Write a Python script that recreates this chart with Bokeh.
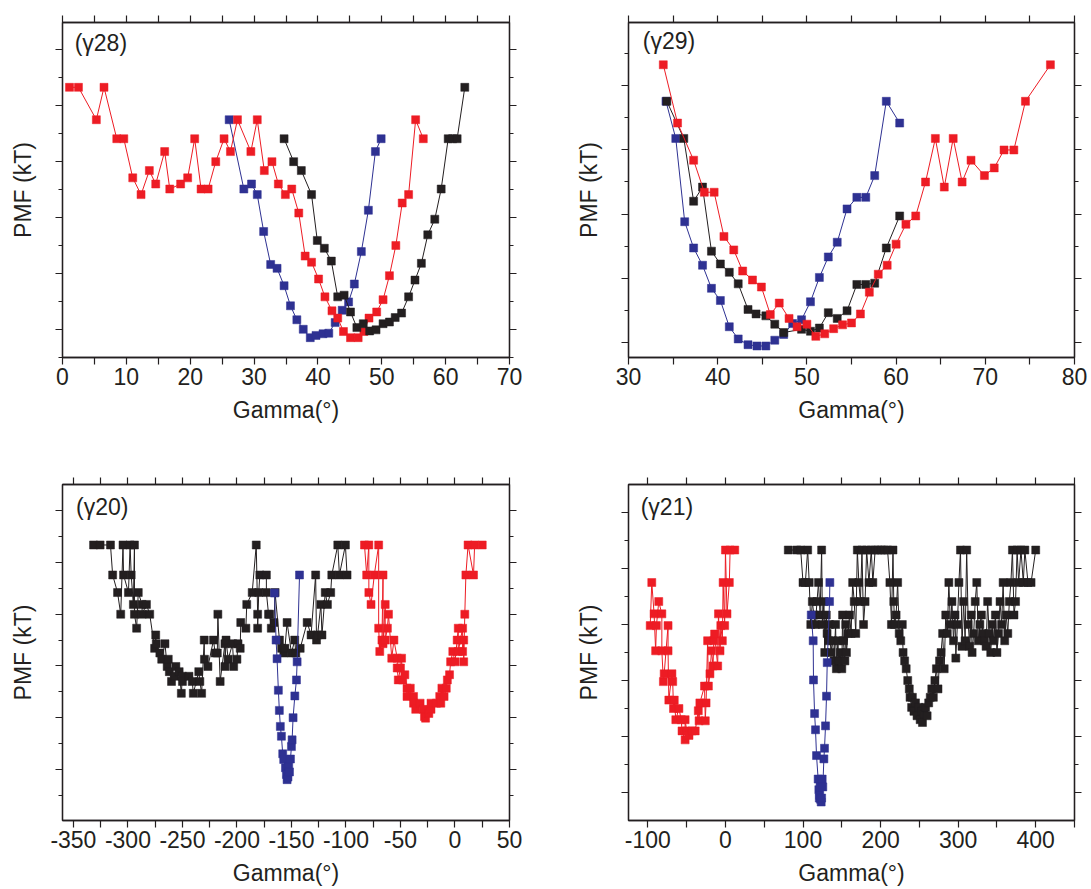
from bokeh.plotting import figure
from bokeh.models import FixedTicker, LinearAxis, Range1d, Label
from bokeh.layouts import row, column
from bokeh.embed import file_html
from bokeh.resources import INLINE

# ---------------- data ----------------
# (gamma28)
G28_RED_X = [1.1, 2.5, 5.3, 6.5, 8.5, 9.6, 11.0, 12.3, 13.6, 14.6, 16.0, 16.8, 18.5, 19.6, 20.7, 21.7,
             22.8, 24.0, 25.3, 26.3, 27.4, 29.5, 30.5, 31.6, 32.8, 33.8, 34.9, 35.9, 37.0, 38.0, 39.0,
             40.1, 41.1, 42.2, 43.1, 44.0, 45.1, 46.3, 47.2, 48.0, 49.2, 50.2, 51.2, 52.2, 53.2, 54.2,
             55.3, 56.5]
G28_RED_Y = [4.33, 4.33, 3.75, 4.33, 3.41, 3.41, 2.71, 2.41, 2.84, 2.60, 3.18, 2.51, 2.60, 2.71, 3.41,
             2.51, 2.51, 3.00, 3.41, 3.18, 3.75, 3.18, 3.75, 2.84, 3.00, 2.60, 2.41, 2.51, 2.08, 1.31,
             1.20, 0.90, 0.58, 0.33, 0.20, -0.04, -0.15, -0.15, -0.04, 0.20, 0.31, 0.53, 0.96, 1.50,
             2.26, 2.41, 3.75, 3.41]
G28_BLUE_X = [26.1, 28.4, 29.6, 30.5, 31.5, 32.6, 33.6, 34.7, 35.7, 36.7, 37.7, 38.8, 39.7, 40.8, 41.7,
              42.7, 43.8, 44.8, 45.7, 46.8, 47.9, 49.0, 49.9]
G28_BLUE_Y = [3.75, 2.51, 2.60, 2.41, 1.75, 1.16, 1.09, 0.78, 0.42, 0.17, 0.00, -0.15, -0.11, -0.08,
              -0.07, 0.12, 0.34, 0.49, 0.81, 1.39, 2.13, 3.18, 3.41]
G28_BLACK_X = [34.7, 36.2, 37.4, 39.0, 39.9, 41.0, 42.1, 43.1, 44.1, 45.1, 46.1, 47.1, 48.1, 49.1, 50.2,
               51.2, 52.1, 53.1, 54.2, 55.2, 56.2, 57.2, 58.3, 59.3, 60.4, 61.1, 61.8, 63.0]
G28_BLACK_Y = [3.41, 3.00, 2.84, 2.41, 1.59, 1.45, 1.22, 0.58, 0.61, 0.31, 0.03, 0.10, -0.03, -0.01,
               0.10, 0.13, 0.21, 0.29, 0.58, 0.88, 1.18, 1.69, 1.97, 2.51, 3.41, 3.41, 3.41, 4.33]

# (gamma29)
G29_RED_X = [33.9, 35.5, 37.3, 38.5, 39.6, 40.7, 41.8, 42.8, 43.9, 44.9, 45.9, 46.9, 48.0, 48.9, 50.0,
             51.0, 52.0, 53.0, 54.0, 55.0, 56.0, 57.0, 58.0, 59.0, 60.0, 61.1, 62.2, 63.3, 64.4, 65.4,
             66.4, 67.4, 68.4, 69.9, 71.0, 72.1, 73.2, 74.5, 77.3]
G29_RED_Y = [4.33, 3.42, 2.84, 2.34, 2.34, 1.65, 1.44, 1.11, 0.97, 0.86, 0.43, 0.61, 0.37, 0.24, 0.28,
             0.09, 0.13, 0.21, 0.27, 0.30, 0.44, 0.78, 1.06, 1.20, 1.53, 1.84, 1.97, 2.50, 3.18, 2.42,
             3.18, 2.50, 2.84, 2.60, 2.72, 3.00, 3.00, 3.76, 4.33]
G29_BLUE_X = [34.2, 35.3, 36.3, 37.3, 38.3, 39.3, 40.3, 41.3, 42.3, 43.4, 44.4, 45.4, 46.4, 47.4, 48.4,
              49.4, 50.4, 51.4, 52.4, 53.4, 54.5, 55.6, 56.6, 57.6, 58.9, 60.4]
G29_BLUE_Y = [3.76, 3.18, 1.88, 1.47, 1.20, 0.84, 0.65, 0.24, 0.05, -0.04, -0.06, -0.06, 0.03, 0.12,
              0.29, 0.35, 0.63, 1.01, 1.33, 1.56, 2.08, 2.26, 2.26, 2.60, 3.76, 3.42]
G29_BLACK_X = [34.3, 36.2, 37.3, 38.3, 39.3, 40.3, 41.3, 42.3, 43.4, 44.3, 45.4, 46.4, 47.4, 49.4, 50.4,
               51.4, 52.4, 53.4, 54.5, 55.6, 56.6, 57.6, 58.9, 60.4]
G29_BLACK_Y = [3.76, 3.18, 2.20, 2.42, 1.42, 1.22, 1.09, 0.91, 0.51, 0.44, 0.41, 0.28, 0.15, 0.20, 0.17,
               0.22, 0.46, 0.37, 0.49, 0.90, 0.90, 0.92, 1.47, 1.97]

# (gamma20)
G20_BLACK_X = [-331.5, -325.5, -316, -314, -309.5, -306.6, -304.5, -304, -299.5, -298, -297, -295, -294,
               -294, -292, -290.5, -287, -287, -283, -280, -275.5, -274.5, -274, -270.7, -269, -266,
               -264, -263, -262, -260, -257, -256, -253, -251, -250, -250, -244, -241, -240, -235, -234,
               -232.4, -230, -229.8, -226.6, -221.5, -220, -218, -217.5, -215.4, -211, -211, -210,
               -208, -204, -203, -200, -199, -197, -196.5, -191.8, -191, -186, -182.3, -181, -181,
               -180, -179, -173, -173, -171, -170, -168.5, -166, -165, -161, -159, -157, -156, -154,
               -150, -147, -146, -142, -135.6, -132, -127.8, -127, -126, -123, -122, -119, -117, -114,
               -113, -107.5, -106, -100.5, -99]
G20_BLACK_Y = [4.34, 4.34, 4.34, 3.76, 3.42, 3.00, 4.34, 3.76, 3.42, 4.34, 3.76, 3.19, 4.34,
               3.00, 2.73, 3.42, 3.19, 3.00, 3.19, 3.00, 2.34, 2.60, 2.43, 2.25, 2.13, 2.43,
               1.99, 2.13, 1.89, 1.70, 1.80, 1.99, 1.89, 1.47, 1.80, 1.70, 1.80, 1.70, 1.47, 1.89, 1.70,
               1.47, 2.50, 2.13, 1.99, 2.50, 2.25, 2.25, 3.00, 1.70, 2.43, 1.99, 2.50,
               2.13, 2.43, 1.99, 2.13, 2.43, 2.34, 2.84, 2.73, 3.19, 3.42, 4.34, 3.00, 2.73,
               3.42, 3.76, 3.76, 3.42, 3.00, 3.00, 2.73, 2.84, 3.42, 2.50, 2.34, 2.25, 2.34, 2.84,
               2.25, 2.50, 2.25, 2.34, 2.84, 2.60, 3.76, 2.50, 2.60, 3.19, 2.60, 3.42, 3.19, 3.42,
               3.76, 4.34, 3.76, 4.34, 3.76]
G20_BLUE_X = [-165.5, -164.1, -163.2, -162.0, -161.1, -160.2, -159.2, -158.0, -157.1, -155.5, -154.6,
              -154.0, -153.2, -152.5, -151.8, -150.9, -150.0, -149.4, -148.5, -146.9, -145.4, -144.8,
              -142.6]
G20_BLUE_Y = [3.41, 2.50, 2.14, 1.53, 1.14, 0.83, 0.64, 0.30, 0.19, 0.03, -0.10, -0.20, -0.15, 0.06,
              -0.05, 0.20, 0.44, 0.57, 1.00, 1.42, 1.73, 2.08, 3.76]
G20_RED_X = [-83, -81, -79, -79, -77, -74, -70, -70, -69, -67, -66, -66, -64, -64, -62, -61, -58, -56,
             -53, -53, -52, -50, -49, -48, -46, -44, -44, -41, -38, -38, -36, -32, -29, -28, -27, -24,
             -22, -22, -17, -14, -13, -12, -10, -8, -7, -5, -4, -2, 0, 2, 3, 3, 7, 7, 8, 8, 9, 10, 12,
             17, 18, 25]
G20_RED_Y = [4.34, 3.76, 4.34, 3.42, 3.19, 3.76, 4.34, 2.73, 2.28, 2.50, 3.76, 2.43, 3.19, 2.50, 2.73,
             3.00, 2.15, 2.50, 2.15, 1.96, 1.73, 1.96, 2.15, 1.73, 1.83, 1.57, 1.41, 1.57, 1.41, 1.28,
             1.16, 1.28, 1.16, 1.02, 0.99, 1.08, 1.16, 1.28, 1.28, 1.41, 1.28, 1.57, 1.41, 1.57, 1.73,
             1.83, 2.08, 2.28, 2.08, 2.50, 2.73, 2.28, 2.73, 2.28, 2.50, 2.08, 3.00, 3.76, 4.34, 3.76,
             4.34, 4.34]

# (gamma21)
G21_RED_X = [-97, -95, -92, -90, -89, -86, -82, -82, -80, -79, -74, -74, -73, -69, -68, -67, -66, -64,
             -60, -57, -56, -52, -52, -50, -47, -43, -39, -35, -34, -33, -27, -26, -25, -23, -22, -20,
             -18, -16, -15, -14, -10, -9, -7, -6, -4, -3, -1, 0, 2, 5, 6, 12]
G21_RED_Y = [2.98, 3.75, 3.19, 2.53, 2.98, 3.41, 3.19, 2.53, 1.98, 2.12, 2.98, 2.53, 1.65, 2.12, 1.98,
             1.50, 1.65, 1.30, 1.50, 1.30, 1.10, 0.94, 1.30, 1.10, 1.02, 1.10, 1.10, 1.46, 1.28, 1.60,
             1.90, 1.28, 1.60, 2.71, 1.90, 2.12, 2.53, 2.26, 2.71, 2.83, 2.26, 3.19, 2.53, 2.98, 2.71,
             3.75, 2.98, 4.33, 3.19, 3.75, 4.33, 4.33]
G21_BLUE_X = [110.6, 113.1, 113.5, 114.9, 116.1, 117.4, 119.5, 120.4, 121.0, 121.5, 122.0, 122.6, 123.4,
              124.0, 124.7, 125.5, 126.9, 127.7, 129.0, 130.3, 131.2, 134.2, 134.6]
G21_BLUE_Y = [3.17, 2.71, 2.01, 1.41, 1.12, 0.66, 0.24, 0.05, -0.10, -0.05, 0.10, -0.12, -0.17, -0.10,
              0.24, 0.10, 0.60, 0.79, 1.19, 1.72, 2.32, 3.41, 3.75]
G21_BLACK_X = [81, 92, 97, 100, 103, 106, 108, 110, 112, 114, 116, 118, 120, 122, 124, 125, 127, 128, 130,
               131, 133, 134, 136, 138, 140, 142, 143, 145, 146, 148, 150, 151, 152, 154, 155, 156, 158,
               160, 162, 164, 166, 168, 170, 172, 174, 176, 178, 180, 182, 185, 188, 190, 193, 197, 201,
               205, 209, 212, 214, 216, 217, 218, 220, 222, 224, 226, 228, 229, 231, 233, 235, 237, 238,
               240, 241, 243, 245, 247, 249, 251, 253, 254, 256, 258, 260, 262, 264, 266, 268, 270, 272,
               274, 276, 278, 280, 282, 284, 286, 288, 290, 292, 294, 296, 297, 299, 301, 303, 305, 307,
               309, 311, 313, 315, 317, 318, 320, 322, 324, 326, 328, 330, 332, 334, 336, 338, 340, 342,
               344, 346, 348, 350, 352, 354, 356, 358, 360, 362, 364, 366, 368, 370, 372, 374, 376, 378,
               381, 384, 386, 390, 394, 400]
G21_BLACK_Y = [4.33, 4.33, 4.33, 3.75, 3.75, 4.33, 3.75, 3.00, 3.41, 3.17, 3.00, 3.41, 3.75, 3.17, 4.33,
               3.00, 3.41, 2.50, 3.17, 2.84, 2.71, 3.00, 2.50, 2.71, 2.35, 3.00, 2.21, 2.71, 2.35, 2.50,
               2.21, 3.17, 2.71, 2.35, 3.00, 2.50, 2.84, 3.17, 2.84, 3.75, 3.41, 2.84, 4.33, 3.75, 3.41,
               4.33, 3.00, 3.41, 4.33, 3.75, 4.33, 3.75, 4.33, 4.33, 4.33, 4.33, 4.33, 3.75, 3.00, 4.33,
               3.41, 3.00, 3.17, 3.75, 2.84, 2.71, 3.00, 2.50, 2.35, 2.21, 2.00, 1.85, 1.70, 1.52, 1.70,
               1.45, 1.60, 1.37, 1.52, 1.30, 1.45, 1.25, 1.40, 1.52, 1.37, 1.60, 1.70, 1.85, 1.70, 2.00,
               2.21, 1.85, 2.35, 2.50, 2.84, 2.21, 3.17, 2.84, 3.75, 3.00, 3.41, 2.71, 3.17, 2.40, 3.00,
               3.75, 4.33, 2.61, 3.41, 2.71, 4.33, 3.00, 2.61, 3.17, 2.50, 2.84, 3.41, 3.75, 2.71, 3.00,
               3.17, 2.84, 2.71, 2.61, 3.41, 2.84, 2.50, 3.00, 2.71, 3.17, 2.50, 2.84, 3.41, 3.00, 3.75,
               2.71, 3.17, 2.84, 3.41, 3.75, 4.33, 3.17, 3.41, 4.33, 3.75, 4.33, 3.75, 4.33, 3.75, 3.75,
               4.33]

# ---------------- style ----------------
RED = "#ED1C24"
BLUE = "#2E3192"
BLACK = "#231F20"
FONT = "Liberation Sans"
FS = "23px"


def make_panel(xr, yr, x_step, x_label_step, y_major, y_minor, width, height,
               left, right, top, bottom, series, tag, tag_xy):
    p = figure(width=width, height=height, x_range=Range1d(*xr), y_range=Range1d(*yr),
               output_backend="svg", toolbar_location=None,
               min_border_left=left, min_border_right=right,
               min_border_top=top, min_border_bottom=bottom)
    p.xgrid.visible = False
    p.ygrid.visible = False
    p.outline_line_color = BLACK
    p.outline_line_width = 1.3
    p.background_fill_color = "white"
    p.border_fill_color = "white"

    start = int(round(xr[0] / x_step)) * x_step
    if start < xr[0]:
        start += x_step
    xt = []
    t = start
    while t <= xr[1] + 1e-9:
        xt.append(t)
        t += x_step
    xticker = FixedTicker(ticks=xt, minor_ticks=[])
    yticker = FixedTicker(ticks=y_major, minor_ticks=y_minor)

    xb = p.xaxis[0]
    yl = p.yaxis[0]
    xa = LinearAxis()
    yr_ax = LinearAxis()
    p.add_layout(xa, "above")
    p.add_layout(yr_ax, "right")

    for ax in (xb, xa):
        ax.ticker = xticker
    for ax in (yl, yr_ax):
        ax.ticker = yticker

    xb.major_label_overrides = {v: (str(v) if v % x_label_step == 0 else "") for v in xt}
    xa.major_label_overrides = {v: "" for v in xt}
    yl.major_label_overrides = {v: "" for v in y_major}
    yr_ax.major_label_overrides = {v: "" for v in y_major}
    for ax in (xa, yl, yr_ax):
        ax.major_label_text_font_size = "0px"
        ax.major_label_standoff = 0

    for ax in (xb, xa, yl, yr_ax):
        ax.axis_line_color = BLACK
        ax.axis_line_width = 1.3
        ax.major_tick_line_color = BLACK
        ax.major_tick_line_width = 1.2
        ax.minor_tick_line_color = BLACK
        ax.minor_tick_line_width = 1.2
        ax.major_tick_in = 0
        ax.major_tick_out = 7
        ax.minor_tick_in = 0
        ax.minor_tick_out = 4

    xb.major_label_text_font = FONT
    xb.major_label_text_font_size = FS
    xb.major_label_text_color = BLACK
    xb.major_label_standoff = 3
    xb.axis_label = "Gamma(°)"
    xb.axis_label_text_font = FONT
    xb.axis_label_text_font_size = FS
    xb.axis_label_text_font_style = "normal"
    xb.axis_label_text_color = BLACK
    xb.axis_label_standoff = 9

    yl.axis_label = "PMF (kT)"
    yl.axis_label_text_font = FONT
    yl.axis_label_text_font_size = FS
    yl.axis_label_text_font_style = "normal"
    yl.axis_label_text_color = BLACK
    yl.axis_label_standoff = 20

    for xs, ys, c in series:
        p.line(xs, ys, line_color=c, line_width=1.0)
        p.scatter(xs, ys, marker="square", size=8, fill_color=c, line_color=c, line_width=0.5)

    p.add_layout(Label(x=tag_xy[0], y=tag_xy[1], text=tag, text_font=FONT, text_font_size=FS,
                       text_color=BLACK, text_baseline="middle", text_align="left"))
    return p


p1 = make_panel((0, 70), (-0.505, 5.49), 5, 10, [0, 1, 2, 3, 4, 5], [-0.5, 0.5, 1.5, 2.5, 3.5, 4.5],
                540, 470, 62, 31, 22, 111,
                [(G28_BLUE_X, G28_BLUE_Y, BLUE), (G28_RED_X, G28_RED_Y, RED),
                 (G28_BLACK_X, G28_BLACK_Y, BLACK)],
                "(γ28)", (1.9, 5.12))

p2 = make_panel((30, 80), (-0.24, 4.99), 5, 10, [0, 1, 2, 3, 4], [0.5, 1.5, 2.5, 3.5, 4.5],
                551, 470, 88, 17, 21, 113,
                [(G29_BLUE_X, G29_BLUE_Y, BLUE), (G29_BLACK_X, G29_BLACK_Y, BLACK),
                 (G29_RED_X, G29_RED_Y, RED)],
                "(γ29)", (31.6, 4.70))

p3 = make_panel((-360, 50), (-0.99, 5.51), 25, 50, [0, 1, 2, 3, 4, 5],
                [-0.5, 0.5, 1.5, 2.5, 3.5, 4.5],
                540, 419, 62, 31, 14, 68,
                [(G20_BLACK_X, G20_BLACK_Y, BLACK), (G20_RED_X, G20_RED_Y, RED),
                 (G20_BLUE_X, G20_BLUE_Y, BLUE)],
                "(γ20)", (-347.6, 5.07))

p4 = make_panel((-125, 450), (-0.5, 5.5), 50, 100, [0, 1, 2, 3, 4, 5], [0.5, 1.5, 2.5, 3.5, 4.5],
                551, 419, 88, 17, 13, 69,
                [(G21_RED_X, G21_RED_Y, RED), (G21_BLACK_X, G21_BLACK_Y, BLACK),
                 (G21_BLUE_X, G21_BLUE_Y, BLUE)],
                "(γ21)", (-109.3, 5.10))

layout = column(row(p1, p2, spacing=0), row(p3, p4, spacing=0), spacing=0)

open("out.html", "w").write(file_html(layout, INLINE))
